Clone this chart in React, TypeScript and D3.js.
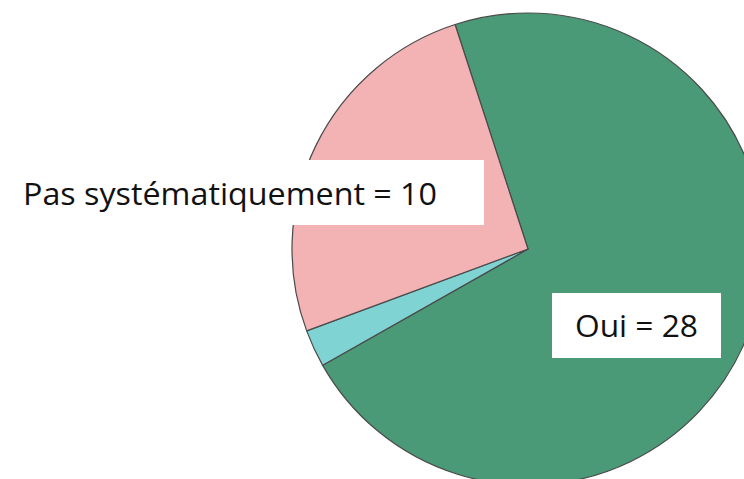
import React from 'react';
import * as d3 from 'd3';

const categories = ['Oui', 'Non', 'Pas systématiquement'];
const values = [28, 1, 10];
const colors = ['#4a9a78', '#7fd3d3', '#f3b3b4'];
const labels = ['Oui = 28', '', 'Pas systématiquement = 10'];

const width = 744;
const height = 479;
const cx = 528;
const cy = 249;
const radius = 236;
const startDeg = -18;

// label boxes (x, y, w, h) and text anchor
const boxes = [
  { x: 552, y: 293, w: 169, h: 65, tx: 575, ty: 337, tl: 123 },
  null,
  { x: 10, y: 160, w: 474, h: 65, tx: 23, ty: 205, tl: 414 },
];

const App = () => {
  const start = (startDeg * Math.PI) / 180;
  const pie = d3
    .pie<number>()
    .sort(null)
    .value((d) => d)
    .startAngle(start)
    .endAngle(start + 2 * Math.PI);
  const arcs = pie(values);
  const arc = d3.arc<d3.PieArcDatum<number>>().innerRadius(0).outerRadius(radius);

  return (
    <svg
      width={width}
      height={height}
      style={{ position: 'absolute', left: 0, top: 0, background: '#fff' }}
    >
      <g transform={`translate(${cx},${cy})`}>
        {arcs.map((a, i) => (
          <path
            key={categories[i]}
            d={arc(a) || ''}
            fill={colors[i]}
            stroke="#4a4a4a"
            strokeWidth={1.2}
            strokeLinejoin="round"
          />
        ))}
      </g>
      {boxes.map((b, i) =>
        b ? (
          <g key={'l' + i}>
            <rect x={b.x} y={b.y} width={b.w} height={b.h} fill="#fff" />
            <text
              x={b.tx}
              y={b.ty}
              fontFamily="'Open Sans', sans-serif"
              fontSize={31}
              fill="#111"
              textLength={b.tl}
              lengthAdjust="spacingAndGlyphs"
            >
              {labels[i]}
            </text>
          </g>
        ) : null
      )}
    </svg>
  );
};

export default App;
